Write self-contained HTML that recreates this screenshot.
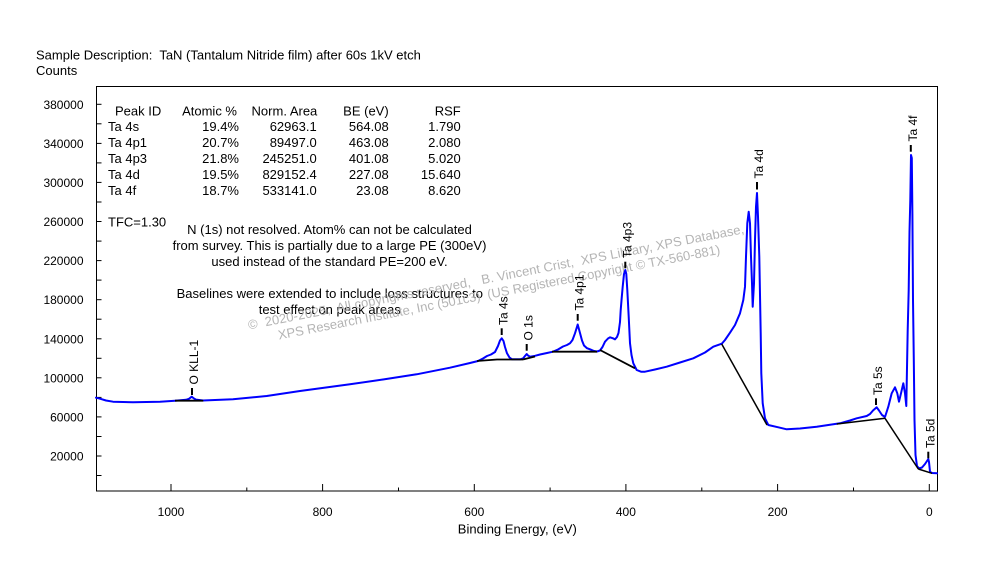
<!DOCTYPE html>
<html>
<head>
<meta charset="utf-8">
<style>
  html, body { margin: 0; padding: 0; background: #ffffff; }
  svg { display: block; }
  text { font-family: "Liberation Sans", Arial, sans-serif; fill: #000; }
</style>
</head>
<body>
<svg width="994" height="565" viewBox="0 0 994 565" xmlns="http://www.w3.org/2000/svg">
  <rect x="0" y="0" width="994" height="565" fill="#ffffff"/>

  <!-- Header -->
  <text x="36" y="59.3" font-size="13">Sample Description:&#160; TaN (Tantalum Nitride film) after 60s 1kV etch</text>
  <text x="36" y="75" font-size="13">Counts</text>

  <!-- Plot frame -->
  <rect x="96.5" y="86.5" width="841" height="404.5" fill="none" stroke="#000" stroke-width="1"/>

  <!-- Y ticks -->
  <g stroke="#000" stroke-width="1">
    <line x1="96.5" y1="104.3" x2="101.5" y2="104.3"/>
    <line x1="96.5" y1="123.8" x2="101.5" y2="123.8"/>
    <line x1="96.5" y1="143.4" x2="101.5" y2="143.4"/>
    <line x1="96.5" y1="162.9" x2="101.5" y2="162.9"/>
    <line x1="96.5" y1="182.4" x2="101.5" y2="182.4"/>
    <line x1="96.5" y1="202.0" x2="101.5" y2="202.0"/>
    <line x1="96.5" y1="221.5" x2="101.5" y2="221.5"/>
    <line x1="96.5" y1="241.1" x2="101.5" y2="241.1"/>
    <line x1="96.5" y1="260.6" x2="101.5" y2="260.6"/>
    <line x1="96.5" y1="280.1" x2="101.5" y2="280.1"/>
    <line x1="96.5" y1="299.7" x2="101.5" y2="299.7"/>
    <line x1="96.5" y1="319.2" x2="101.5" y2="319.2"/>
    <line x1="96.5" y1="338.8" x2="101.5" y2="338.8"/>
    <line x1="96.5" y1="358.3" x2="101.5" y2="358.3"/>
    <line x1="96.5" y1="377.8" x2="101.5" y2="377.8"/>
    <line x1="96.5" y1="397.4" x2="101.5" y2="397.4"/>
    <line x1="96.5" y1="416.9" x2="101.5" y2="416.9"/>
    <line x1="96.5" y1="436.5" x2="101.5" y2="436.5"/>
    <line x1="96.5" y1="456.0" x2="101.5" y2="456.0"/>
    <line x1="96.5" y1="475.5" x2="101.5" y2="475.5"/>
  </g>
  <g font-size="12" text-anchor="end">
    <text x="83.5" y="108.8">380000</text>
    <text x="83.5" y="147.9">340000</text>
    <text x="83.5" y="186.9">300000</text>
    <text x="83.5" y="226.0">260000</text>
    <text x="83.5" y="265.1">220000</text>
    <text x="83.5" y="304.2">180000</text>
    <text x="83.5" y="343.3">140000</text>
    <text x="83.5" y="382.3">100000</text>
    <text x="83.5" y="421.4">60000</text>
    <text x="83.5" y="460.5">20000</text>
  </g>

  <!-- X ticks -->
  <g stroke="#000" stroke-width="1">
    <line x1="171.0" y1="491" x2="171.0" y2="484"/>
    <line x1="322.6" y1="491" x2="322.6" y2="484"/>
    <line x1="474.3" y1="491" x2="474.3" y2="484"/>
    <line x1="625.9" y1="491" x2="625.9" y2="484"/>
    <line x1="777.6" y1="491" x2="777.6" y2="484"/>
    <line x1="929.3" y1="491" x2="929.3" y2="484"/>
    <line x1="246.8" y1="491" x2="246.8" y2="487.5"/>
    <line x1="398.5" y1="491" x2="398.5" y2="487.5"/>
    <line x1="550.1" y1="491" x2="550.1" y2="487.5"/>
    <line x1="701.8" y1="491" x2="701.8" y2="487.5"/>
    <line x1="853.5" y1="491" x2="853.5" y2="487.5"/>
  </g>
  <g font-size="12" text-anchor="middle">
    <text x="171.0" y="516">1000</text>
    <text x="322.6" y="516">800</text>
    <text x="474.3" y="516">600</text>
    <text x="625.9" y="516">400</text>
    <text x="777.6" y="516">200</text>
    <text x="929.3" y="516">0</text>
  </g>
  <text x="517.3" y="533.5" font-size="13" text-anchor="middle">Binding Energy, (eV)</text>

  <!-- Table -->
  <g font-size="13">
    <text x="115" y="115.3">Peak ID</text>
    <text x="237" y="115.3" text-anchor="end">Atomic %</text>
    <text x="317.3" y="115.3" text-anchor="end">Norm. Area</text>
    <text x="388.7" y="115.3" text-anchor="end">BE (eV)</text>
    <text x="460.7" y="115.3" text-anchor="end">RSF</text>

    <text x="108" y="131">Ta 4s</text>
    <text x="239" y="131" text-anchor="end">19.4%</text>
    <text x="316.7" y="131" text-anchor="end">62963.1</text>
    <text x="388.7" y="131" text-anchor="end">564.08</text>
    <text x="460.7" y="131" text-anchor="end">1.790</text>

    <text x="108" y="147">Ta 4p1</text>
    <text x="239" y="147" text-anchor="end">20.7%</text>
    <text x="316.7" y="147" text-anchor="end">89497.0</text>
    <text x="388.7" y="147" text-anchor="end">463.08</text>
    <text x="460.7" y="147" text-anchor="end">2.080</text>

    <text x="108" y="163">Ta 4p3</text>
    <text x="239" y="163" text-anchor="end">21.8%</text>
    <text x="316.7" y="163" text-anchor="end">245251.0</text>
    <text x="388.7" y="163" text-anchor="end">401.08</text>
    <text x="460.7" y="163" text-anchor="end">5.020</text>

    <text x="108" y="179">Ta 4d</text>
    <text x="239" y="179" text-anchor="end">19.5%</text>
    <text x="316.7" y="179" text-anchor="end">829152.4</text>
    <text x="388.7" y="179" text-anchor="end">227.08</text>
    <text x="460.7" y="179" text-anchor="end">15.640</text>

    <text x="108" y="195">Ta 4f</text>
    <text x="239" y="195" text-anchor="end">18.7%</text>
    <text x="316.7" y="195" text-anchor="end">533141.0</text>
    <text x="388.7" y="195" text-anchor="end">23.08</text>
    <text x="460.7" y="195" text-anchor="end">8.620</text>

    <text x="108" y="226.7">TFC=1.30</text>
  </g>

  <!-- Annotations -->
  <g font-size="13" text-anchor="middle">
    <text x="329.5" y="234">N (1s) not resolved. Atom% can not be calculated</text>
    <text x="329.5" y="250">from survey. This is partially due to a large PE (300eV)</text>
    <text x="329.5" y="266">used instead of the standard PE=200 eV.</text>
    <text x="329.8" y="298">Baselines were extended to include loss structures to</text>
    <text x="329.8" y="314">test effect on peak areas</text>
  </g>

  <!-- Watermark -->
  <g font-size="13">
    <text transform="translate(249,329.5) rotate(-11)" textLength="505" lengthAdjust="spacing" style="fill:#b4b4b4">©&#160; 2020-2025,&#160; All copyrights reserved,&#160;&#160; B. Vincent Crist,&#160; XPS Library, XPS Database,</text>
    <text transform="translate(279,339.5) rotate(-11)" textLength="450" lengthAdjust="spacing" style="fill:#b4b4b4">XPS Research Institute, Inc (501c3)&#160; (US Registered Copyright © TX-560-881)</text>
  </g>

  <!-- Spectrum -->
  <polyline fill="none" stroke="#0000ff" stroke-width="2" stroke-linejoin="round" stroke-linecap="round" points="
96,397.7 100,398.7 106,400.5 113,401.7 133,402.3 160,401.7 175,400.7 186,399.8 189,398.8 191.7,396.7 194,398.5 196,399.6 203,400.5
233,399.3 266.7,396 300,391 350,384.3 383,379.5 416.7,374.3 450,367.7 470,363 478,361 483,358.5 487,356 491,354.5 495,352
498,346 500,340.5 501.7,338.3 503.5,341 505,347 507,353.3 509.5,357.5 512,359.3 520,359.3 523,358.5 525,356 526.7,354 528,355.5
530,356.7 535,355.8 540,354.5 547,353 553,351.7 558,349.5 563,346.5 567,345 570,343.3 572.5,340 575,333.3 577.7,324.5 580,333
582,340.5 584,345.5 587,348.2 590,349.3 594,351 597,351.5 600,350.5 602.5,347 605,341.7 608,338.5 610,337.3 613,338.3 615,339.3
617,337 618.5,333 620,322 620.7,310 621.7,298 622.7,286.7 624,274 625.3,270 626.3,274 627.3,290 628.7,316.7 630,343.3 631.5,355
633.3,363.3 636.7,370 641,371.7 645,371.7 655,369.5 666.7,366.7 680,362.5 693.3,358.3 705,352.5 713.3,346.7 720,344.3 722,343.5
725,340 730,332.7 735,325 740,313.3 743.3,300 745,286.7 746,256.7 747.3,223.3 748.7,211.7 750,223.3 751,256.7 752,283.3 752.7,306.7
754,283.3 755,240 756,206.7 757,193 758,216.7 759.3,256.7 760.7,333.3 761.3,373.3 762.7,403.3 765,418.3 768.3,425 778.3,427.3
786.7,429.3 800,428.5 816.7,426.7 830,424.8 840,423.3 850,420.5 856.7,418.3 866.7,416 870,414 873,410.5 876.7,407.3 879,410.5
882,415 885,417 888.3,406.7 891.7,393.3 895,387.3 897.3,393.3 899,401.7 901,393.3 903.3,383.3 905,393.3 906.3,406 907.7,330
908.7,290 909.5,232 910.3,200 911,155 911.8,158 912.4,214 913,300 913.8,360 914.5,420 915.5,455 917,466 919,468.5 922,467.5
925,464 927,461 928.3,459 929,462 930,471.7 932,473 937,473.3"/>

  <!-- Baselines -->
  <g fill="none" stroke="#000" stroke-width="1.8" stroke-linecap="butt">
    <polyline points="175,400.7 203.3,400.7"/>
    <polyline points="477,361 497,359.5 523,359.5"/>
    <polyline points="523,359.5 535,356.5"/>
    <polyline points="552,351.7 597,351.7"/>
    <polyline points="600,350 635,368.3"/>
  </g>
  <g fill="none" stroke="#000" stroke-width="1.5">
    <polyline points="721.7,344 767,425"/>
    <polyline points="836.7,424 885,418.3"/>
    <polyline points="885,418.3 918.3,469"/>
    <polyline points="918.3,469 932,473.3"/>
  </g>

  <!-- Peak label dashes -->
  <g stroke="#000" stroke-width="2">
    <line x1="192" y1="388" x2="192" y2="395"/>
    <line x1="501.7" y1="328.3" x2="501.7" y2="335"/>
    <line x1="526.7" y1="344" x2="526.7" y2="350.7"/>
    <line x1="577.7" y1="314" x2="577.7" y2="320.7"/>
    <line x1="625.3" y1="261.7" x2="625.3" y2="268.3"/>
    <line x1="757" y1="182" x2="757" y2="189.5"/>
    <line x1="910.8" y1="145" x2="910.8" y2="151.7"/>
    <line x1="876" y1="398.3" x2="876" y2="405"/>
    <line x1="928.3" y1="451.7" x2="928.3" y2="458.3"/>
  </g>

  <!-- Peak labels (rotated) -->
  <g font-size="12">
    <text transform="translate(198,384.5) rotate(-90)">O KLL-1</text>
    <text transform="translate(507.7,325) rotate(-90)">Ta 4s</text>
    <text transform="translate(532.7,340.5) rotate(-90)">O 1s</text>
    <text transform="translate(583.7,310.5) rotate(-90)">Ta 4p1</text>
    <text transform="translate(631.3,258) rotate(-90)">Ta 4p3</text>
    <text transform="translate(763,178.5) rotate(-90)">Ta 4d</text>
    <text transform="translate(916.8,141.5) rotate(-90)">Ta 4f</text>
    <text transform="translate(882,395) rotate(-90)">Ta 5s</text>
    <text transform="translate(934.3,448) rotate(-90)">Ta 5d</text>
  </g>
</svg>
</body>
</html>
